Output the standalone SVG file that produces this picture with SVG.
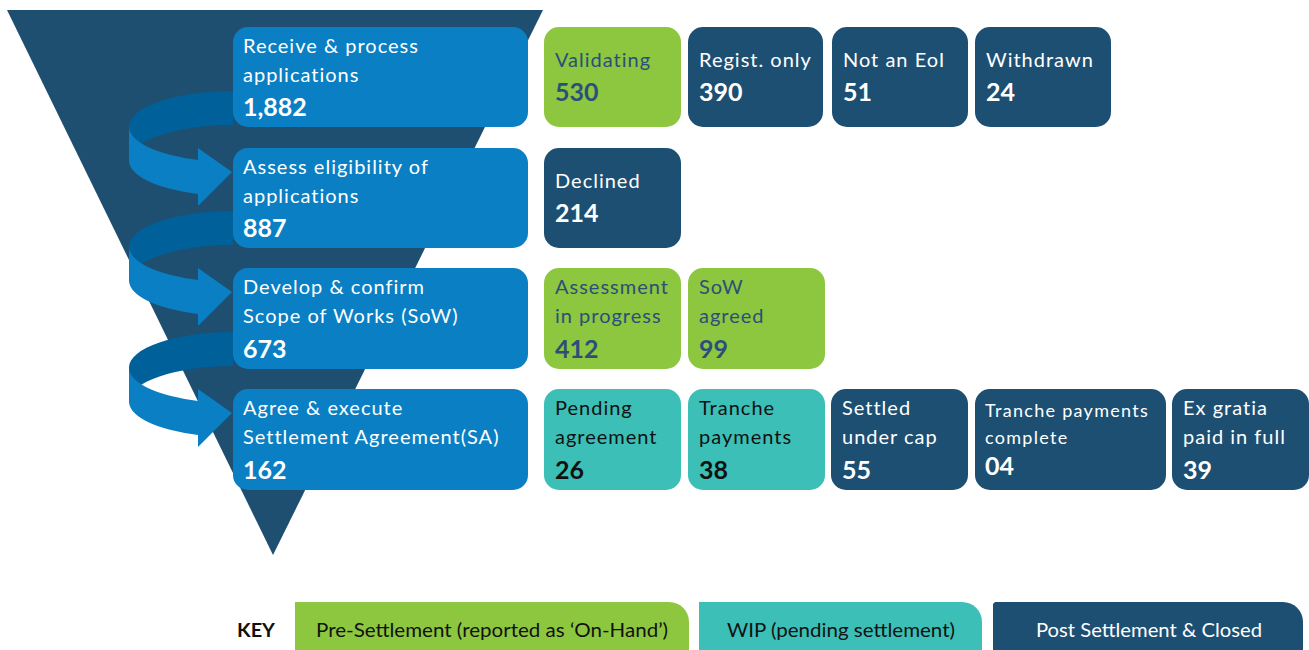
<svg xmlns="http://www.w3.org/2000/svg" width="1309" height="650" viewBox="0 0 1309 650">
<style>
.main{fill:#0a7fc3}
.green{fill:#8dc63f}
.teal{fill:#3bbfb7}
.dark{fill:#1d4f73}
.t{font-family:Lato,"Open Sans",sans-serif;font-size:20px;letter-spacing:1px}
.n{font-family:Lato,"Open Sans",sans-serif;font-size:25px;font-weight:bold}
.w{fill:#ffffff}
.g{fill:#2b4f7a}
.k{fill:#111111}
.back{fill:#00609a}
.front{fill:#0a7fc3}
.key{font-family:Lato,"Open Sans",sans-serif;font-size:19px}
</style>
<rect width="1309" height="650" fill="#ffffff"/>
<g id="funnel"><polygon points="7,10 543,10 273,555" fill="#1e4f71"/></g>
<g id="connectors">
<g id="arrow1">
<path class="back" d="M233,91 A104,35.5 0 0 0 129,126.5 L129,160.5 A104,35.5 0 0 1 233,125 Z"/>
<path class="front" d="M129,126.5 A104,35.5 0 0 0 198,160 L198,148 L232,172 L198,206 L198,194 A104,35.5 0 0 1 129,160.5 Z"/>
</g>
<g id="arrow2" transform="translate(0,120)">
<path class="back" d="M233,91 A104,35.5 0 0 0 129,126.5 L129,160.5 A104,35.5 0 0 1 233,125 Z"/>
<path class="front" d="M129,126.5 A104,35.5 0 0 0 198,160 L198,148 L232,172 L198,206 L198,194 A104,35.5 0 0 1 129,160.5 Z"/>
</g>
<g id="arrow3" transform="translate(0,241)">
<path class="back" d="M233,91 A104,35.5 0 0 0 129,126.5 L129,160.5 A104,35.5 0 0 1 233,125 Z"/>
<path class="front" d="M129,126.5 A104,35.5 0 0 0 198,160 L198,148 L232,172 L198,206 L198,194 A104,35.5 0 0 1 129,160.5 Z"/>
</g>
</g>
<g id="stage1">
<rect class="main" x="233" y="27" width="295" height="100" rx="15"/>
<text class="t w" x="243" y="53">Receive &amp; process</text>
<text class="t w" x="243" y="82">applications</text>
<text class="n w" x="243" y="116">1,882</text>
</g>
<g id="stage2">
<rect class="main" x="233" y="148" width="295" height="100" rx="15"/>
<text class="t w" x="243" y="174">Assess eligibility of</text>
<text class="t w" x="243" y="203">applications</text>
<text class="n w" x="243" y="237">887</text>
</g>
<g id="stage3">
<rect class="main" x="233" y="268" width="295" height="101" rx="15"/>
<text class="t w" x="243" y="294">Develop &amp; confirm</text>
<text class="t w" x="243" y="323">Scope of Works (SoW)</text>
<text class="n w" x="243" y="358">673</text>
</g>
<g id="stage4">
<rect class="main" x="233" y="389" width="295" height="101" rx="15"/>
<text class="t w" x="243" y="415">Agree &amp; execute</text>
<text class="t w" x="243" y="444">Settlement Agreement(SA)</text>
<text class="n w" x="243" y="479">162</text>
</g>
<g id="validating">
<rect class="green" x="544" y="27" width="137" height="100" rx="15"/>
<text class="t g" x="555" y="67">Validating</text>
<text class="n g" x="555" y="101">530</text>
</g>
<g id="regist">
<rect class="dark" x="688" y="27" width="135" height="100" rx="15"/>
<text class="t w" x="699" y="67">Regist. only</text>
<text class="n w" x="699" y="101">390</text>
</g>
<g id="noteoi">
<rect class="dark" x="832" y="27" width="136" height="100" rx="15"/>
<text class="t w" x="843" y="67">Not an EoI</text>
<text class="n w" x="843" y="101">51</text>
</g>
<g id="withdrawn">
<rect class="dark" x="975" y="27" width="136" height="100" rx="15"/>
<text class="t w" x="986" y="67">Withdrawn</text>
<text class="n w" x="986" y="101">24</text>
</g>
<g id="declined">
<rect class="dark" x="544" y="148" width="137" height="100" rx="15"/>
<text class="t w" x="555" y="188">Declined</text>
<text class="n w" x="555" y="222">214</text>
</g>
<g id="assessment">
<rect class="green" x="544" y="268" width="137" height="101" rx="15"/>
<text class="t g" x="555" y="294">Assessment</text>
<text class="t g" x="555" y="323">in progress</text>
<text class="n g" x="555" y="358">412</text>
</g>
<g id="sowagreed">
<rect class="green" x="688" y="268" width="137" height="101" rx="15"/>
<text class="t g" x="699" y="294">SoW</text>
<text class="t g" x="699" y="323">agreed</text>
<text class="n g" x="699" y="358">99</text>
</g>
<g id="pending">
<rect class="teal" x="544" y="389" width="137" height="101" rx="15"/>
<text class="t k" x="555" y="415">Pending</text>
<text class="t k" x="555" y="444">agreement</text>
<text class="n k" x="555" y="479">26</text>
</g>
<g id="tranche">
<rect class="teal" x="688" y="389" width="137" height="101" rx="15"/>
<text class="t k" x="699" y="415">Tranche</text>
<text class="t k" x="699" y="444">payments</text>
<text class="n k" x="699" y="479">38</text>
</g>
<g id="settled">
<rect class="dark" x="831" y="389" width="137" height="101" rx="15"/>
<text class="t w" x="842" y="415">Settled</text>
<text class="t w" x="842" y="444">under cap</text>
<text class="n w" x="842" y="479">55</text>
</g>
<g id="tranchecomplete">
<rect class="dark" x="975" y="389" width="191" height="101" rx="15"/>
<text class="t w" x="985" y="417" style="font-size:18px;letter-spacing:1.3px">Tranche payments</text>
<text class="t w" x="985" y="444" style="font-size:18px;letter-spacing:1.3px">complete</text>
<text class="n w" x="985" y="475">04</text>
</g>
<g id="exgratia">
<rect class="dark" x="1172" y="389" width="137" height="101" rx="15"/>
<text class="t w" x="1183" y="415">Ex gratia</text>
<text class="t w" x="1183" y="444">paid in full</text>
<text class="n w" x="1183" y="479">39</text>
</g>
<g id="key">
<text class="key" x="237" y="637" font-weight="bold" fill="#111111" textLength="38" lengthAdjust="spacingAndGlyphs">KEY</text>
<path class="green" d="M295,602 L669,602 A20,20 0 0 1 689,622 L689,650 L295,650 Z"/>
<text class="key k" x="316" y="637" textLength="352" lengthAdjust="spacingAndGlyphs">Pre-Settlement (reported as ‘On-Hand’)</text>
<path class="teal" d="M699,602 L962,602 A20,20 0 0 1 982,622 L982,650 L699,650 Z"/>
<text class="key k" x="727" y="637" textLength="228" lengthAdjust="spacingAndGlyphs">WIP (pending settlement)</text>
<path class="dark" d="M995,602 L1283,602 A20,20 0 0 1 1303,622 L1303,650 L993,650 L993,604 Z"/>
<text class="key w" x="1036" y="637" textLength="226" lengthAdjust="spacingAndGlyphs">Post Settlement &amp; Closed</text>
</g>
</svg>
